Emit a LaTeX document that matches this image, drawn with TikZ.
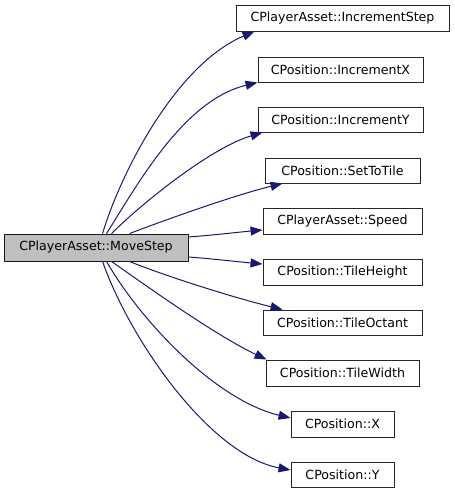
\documentclass[tikz,border=0pt]{standalone}
\usepackage{fontspec}
\setmainfont{DejaVu Sans}
\usetikzlibrary{arrows.meta}
\definecolor{edgeblue}{HTML}{191970}
\definecolor{boxgray}{HTML}{BFBFBF}
\begin{document}
\begin{tikzpicture}[x=1pt,y=-1pt,
  fn/.style={draw=black!85,line width=0.9pt,fill=white,inner sep=0pt,
    font=\fontsize{12.6}{14}\selectfont,text=black},
  mainfn/.style={fn,fill=boxgray,draw=black!90},
  call/.style={draw=edgeblue,line width=1pt,
    -{Triangle[length=12pt,width=9pt,fill=edgeblue]}}]
\useasboundingbox (0,0) rectangle (455,493);
\node[mainfn,minimum width=184pt,minimum height=27pt] (main) at (96,247.5) {CPlayerAsset::MoveStep};
\node[fn,minimum width=213pt,minimum height=26pt] (inc) at (342.5,18) {CPlayerAsset::IncrementStep};
\node[fn,minimum width=165pt,minimum height=25pt] (ix) at (340.5,69.5) {CPosition::IncrementX};
\node[fn,minimum width=165pt,minimum height=25pt] (iy) at (340.5,119.5) {CPosition::IncrementY};
\node[fn,minimum width=155pt,minimum height=25pt] (stt) at (342.5,170.5) {CPosition::SetToTile};
\node[fn,minimum width=159pt,minimum height=26pt] (spd) at (342.5,221) {CPlayerAsset::Speed};
\node[fn,minimum width=159pt,minimum height=26pt] (th) at (342.5,272) {CPosition::TileHeight};
\node[fn,minimum width=159pt,minimum height=25pt] (to) at (342.5,322.5) {CPosition::TileOctant};
\node[fn,minimum width=153pt,minimum height=26pt] (tw) at (342.5,373) {CPosition::TileWidth};
\node[fn,minimum width=103pt,minimum height=26pt] (px) at (342.5,424) {CPosition::X};
\node[fn,minimum width=103pt,minimum height=25pt] (py) at (342.5,474.5) {CPosition::Y};
% start points on the caller box
\coordinate (s1) at ([xshift=99pt]main.north west);
\coordinate (s2) at ([xshift=103pt]main.north west);
\coordinate (s3) at ([xshift=108pt]main.north west);
\coordinate (s4) at ([xshift=126pt]main.north west);
\coordinate (s5) at ([yshift=10.5pt]main.east);
\coordinate (s6) at ([yshift=-9.5pt]main.east);
\coordinate (s7) at ([xshift=126pt]main.south west);
\coordinate (s8) at ([xshift=108pt]main.south west);
\coordinate (s9) at ([xshift=103pt]main.south west);
\coordinate (s10) at ([xshift=99pt]main.south west);
\draw[call] (s1) .. controls (120,175) and (175,65) .. ([xshift=19pt]inc.south west);
\draw[call] (s2) .. controls (140,180) and (185,100) .. ([xshift=0pt]ix.south west);
\draw[call] (s3) .. controls (140,205) and (210,148) .. ([xshift=5pt]iy.south west);
\draw[call] (s4) .. controls (165,220) and (235,195) .. ([xshift=18pt]stt.south west);
\draw[call] (s5) .. controls (215,235) and (240,232) .. ([yshift=-9pt]spd.west);
\draw[call] (s6) .. controls (215,259) and (240,262) .. ([yshift=8pt]th.west);
\draw[call] (s7) .. controls (165,276) and (235,298) .. ([xshift=20pt]to.north west);
\draw[call] (s8) .. controls (145,285) and (215,335) .. ([xshift=1pt]tw.north west);
\draw[call] (s9) .. controls (140,320) and (215,400) .. ([yshift=6pt]px.west);
\draw[call] (s10) .. controls (130,340) and (210,455) .. ([yshift=4.5pt]py.west);
\end{tikzpicture}
\end{document}
